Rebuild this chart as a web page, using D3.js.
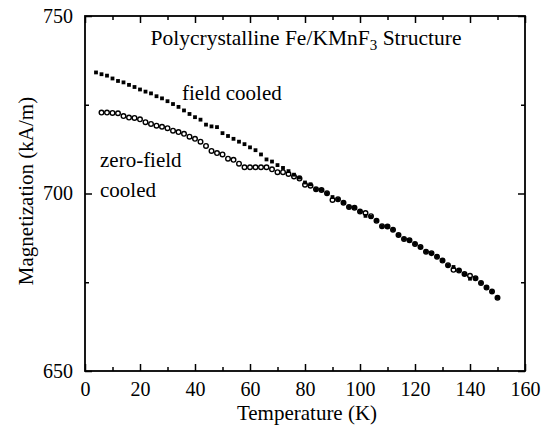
<!DOCTYPE html>
<html>
<head>
<meta charset="utf-8">
<script src="https://cdn.jsdelivr.net/npm/d3@7"></script>
<style>
  body { margin: 0; background: #fff; }
  svg { display: block; }
  svg text { font-family: "Liberation Serif", "Times New Roman", Times, "DejaVu Serif", serif !important; fill: #000; }
</style>
</head>
<body>
<svg id="chart" width="554" height="429"></svg>
<script>
// temperatures (K) and magnetization (kA/m)
var fcTemp = [4,6,8,10,12,14,16,18,20,22,24,26,28,30,32,34,36,38,40,42,44,46,48,50,52,54,56,58,60,62,64,66,68,70,72,74,76,78,80,82,84,86,88,90,92,94,96,98,100,102,104,106,108,110,112,114,116,118,120,122,124,126,128,130,132,134,136,138,140,142,144,146,148,150];
var fcMag = [734.1,733.6,733.2,732.4,731.7,731.3,730.6,730.0,729.3,728.7,728.2,727.4,726.8,726.0,725.2,724.4,723.4,722.4,721.5,720.8,719.4,718.9,718.7,717.0,716.2,715.4,714.6,713.9,713.0,712.2,711.0,709.6,709.0,708.0,707.2,706.3,705.3,704.5,703.1,702.6,701.2,701.0,700.1,699.0,698.4,697.4,696.2,696.0,694.9,693.7,693.4,692.3,690.8,690.7,689.8,688.3,687.2,686.8,685.8,684.9,683.6,683.2,682.2,681.1,679.8,679.3,678.3,677.3,676.0,676.1,674.8,673.5,672.4,670.6];

var zfcTemp = [6,8,10,12,14,16,18,20,22,24,26,28,30,32,34,36,38,40,42,44,46,48,50,52,54,56,58,60,62,64,66,68,70,72,74,76,78,80,82,84,86,88,90,92,94,96,98,100,102,104,106,108,110,112,114,116,118,120,122,124,126,128,130,132,134,136,138,140,142,144,146,148,150];
var zfcMag = [722.8,722.8,722.7,722.6,721.8,721.4,721.3,720.9,720.1,719.6,719.1,718.8,718.4,717.7,717.3,716.8,716.0,715.4,714.6,713.4,712.0,711.4,711.0,709.8,709.5,708.4,707.4,707.4,707.4,707.4,707.4,706.8,706.0,706.0,705.5,704.8,704.2,702.5,702.2,701.2,701.0,700.1,698.2,698.4,697.4,696.2,696.0,694.9,694.5,693.6,692.3,690.8,690.7,689.8,688.3,687.2,686.8,685.8,684.9,683.6,683.2,682.2,681.1,679.8,678.5,678.3,677.3,676.8,676.1,674.8,673.5,672.4,670.6];

var xMajor = [0,20,40,60,80,100,120,140,160];
var xMinor = [10,30,50,70,90,110,130,150];
var yMajor = [650,700,750];
var yMinor = [675,725];

var FONT = "Liberation Serif, Times New Roman, serif";

var svg = d3.select("#chart");

var x = d3.scaleLinear().domain([0, 160]).range([85, 525]);
var y = d3.scaleLinear().domain([650, 750]).range([371, 16]);

// frame
svg.append("rect")
  .attr("x", x(0)).attr("y", y(750))
  .attr("width", x(160) - x(0)).attr("height", y(650) - y(750))
  .attr("fill", "none").attr("stroke", "#000").attr("stroke-width", 1.8);

function styleAxis(g, labels) {
  g.attr("font-family", FONT);
  g.select(".domain").remove();
  g.selectAll(".tick line").attr("stroke", "#000").attr("stroke-width", 1.5);
  if (!labels) g.selectAll(".tick text").remove();
  else g.selectAll(".tick text").attr("font-size", 20).attr("fill", "#000");
}

// bottom
svg.append("g").attr("transform", "translate(0," + y(650) + ")")
  .call(d3.axisBottom(x).tickValues(xMajor).tickSize(-7).tickPadding(11).tickFormat(d3.format("d")))
  .call(function(g) { styleAxis(g, true); });
svg.append("g").attr("transform", "translate(0," + y(650) + ")")
  .call(d3.axisBottom(x).tickValues(xMinor).tickSize(-4))
  .call(function(g) { styleAxis(g, false); });
// top
svg.append("g").attr("transform", "translate(0," + y(750) + ")")
  .call(d3.axisTop(x).tickValues(xMajor).tickSize(-7))
  .call(function(g) { styleAxis(g, false); });
svg.append("g").attr("transform", "translate(0," + y(750) + ")")
  .call(d3.axisTop(x).tickValues(xMinor).tickSize(-4))
  .call(function(g) { styleAxis(g, false); });
// left
svg.append("g").attr("transform", "translate(" + x(0) + ",0)")
  .call(d3.axisLeft(y).tickValues(yMajor).tickSize(-7).tickPadding(12).tickFormat(d3.format("d")))
  .call(function(g) { styleAxis(g, true); });
svg.append("g").attr("transform", "translate(" + x(0) + ",0)")
  .call(d3.axisLeft(y).tickValues(yMinor).tickSize(-4))
  .call(function(g) { styleAxis(g, false); });
// right
svg.append("g").attr("transform", "translate(" + x(160) + ",0)")
  .call(d3.axisRight(y).tickValues(yMajor).tickSize(-7))
  .call(function(g) { styleAxis(g, false); });
svg.append("g").attr("transform", "translate(" + x(160) + ",0)")
  .call(d3.axisRight(y).tickValues(yMinor).tickSize(-4))
  .call(function(g) { styleAxis(g, false); });

// zero-field cooled: open circles
svg.append("g").selectAll("circle")
  .data(d3.zip(zfcTemp, zfcMag))
  .enter().append("circle")
  .attr("cx", function(d) { return x(d[0]); })
  .attr("cy", function(d) { return y(d[1]); })
  .attr("r", 2.3)
  .attr("fill", "#fff")
  .attr("stroke", "#000")
  .attr("stroke-width", 1.4);

// field cooled: filled squares
var sq = 3.8;
svg.append("g").selectAll("rect")
  .data(d3.zip(fcTemp, fcMag))
  .enter().append("rect")
  .attr("x", function(d) { return x(d[0]) - sq / 2; })
  .attr("y", function(d) { return y(d[1]) - sq / 2; })
  .attr("width", sq).attr("height", sq)
  .attr("fill", "#000");

// title
var title = svg.append("text")
  .attr("x", 306).attr("y", 45)
  .attr("text-anchor", "middle")
  .attr("font-family", FONT)
  .attr("font-size", 21.5);
title.append("tspan").text("Polycrystalline Fe/KMnF");
title.append("tspan").attr("font-size", 15).attr("dy", 5).text("3");
title.append("tspan").attr("dy", -5).text(" Structure");

// annotations
svg.append("text").attr("x", 182).attr("y", 100).attr("font-family", FONT).attr("font-size", 21).text("field cooled");
svg.append("text").attr("x", 100).attr("y", 167).attr("font-family", FONT).attr("font-size", 21).text("zero-field");
svg.append("text").attr("x", 100).attr("y", 197).attr("font-family", FONT).attr("font-size", 21).text("cooled");

// axis titles
svg.append("text")
  .attr("x", (x(0) + x(160)) / 2 + 2).attr("y", 420)
  .attr("text-anchor", "middle").attr("font-family", FONT).attr("font-size", 21)
  .text("Temperature (K)");
svg.append("text")
  .attr("transform", "translate(33,191) rotate(-90)")
  .attr("text-anchor", "middle").attr("font-family", FONT).attr("font-size", 21)
  .text("Magnetization (kA/m)");
</script>
</body>
</html>
